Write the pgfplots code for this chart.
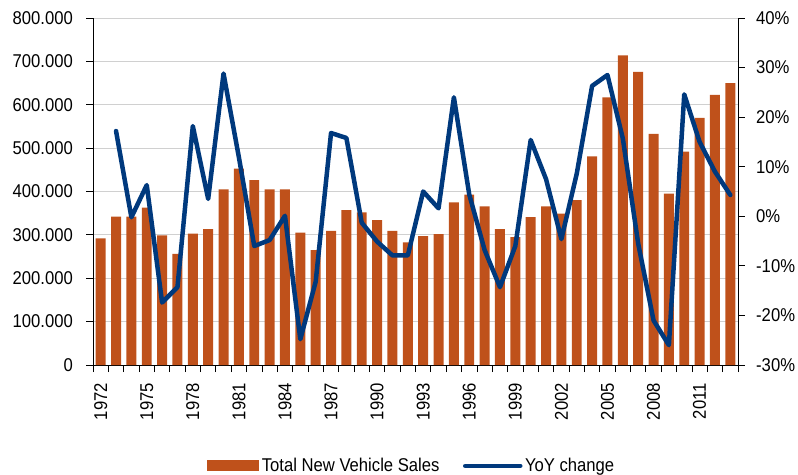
\documentclass[border=0pt]{standalone}
\usepackage{pgfplots}
\pgfplotsset{compat=1.18}
\usepackage{fontspec}
\setmainfont{Liberation Sans}[FakeStretch=0.9]
\definecolor{barC}{RGB}{191,81,27}
\definecolor{lineC}{RGB}{0,57,125}
\definecolor{gridC}{RGB}{208,208,208}
\pgfplotstableread{
year sales
1972 292000
1973 342000
1974 342000
1975 363000
1976 299000
1977 256000
1978 303000
1979 313000
1980 405000
1981 453000
1982 426000
1983 405000
1984 405000
1985 305000
1986 265000
1987 309000
1988 357000
1989 352000
1990 334000
1991 309000
1992 283000
1993 297000
1994 302000
1995 375000
1996 393000
1997 366000
1998 313000
1999 295000
2000 341000
2001 366000
2002 349000
2003 380000
2004 481000
2005 617000
2006 714000
2007 676000
2008 533000
2009 395000
2010 492000
2011 570000
2012 623000
2013 650000
}\salesdata
\pgfplotstableread{
year yoy
1973 17.2
1974 -0.2
1975 6.3
1976 -17.4
1977 -14.3
1978 18.2
1979 3.5
1980 28.8
1981 11.9
1982 -6.0
1983 -4.8
1984 0.1
1985 -24.8
1986 -13.2
1987 16.8
1988 15.8
1989 -1.3
1990 -5.1
1991 -7.9
1992 -7.9
1993 5.0
1994 1.6
1995 24.0
1996 4.4
1997 -6.8
1998 -14.3
1999 -6.0
2000 15.4
2001 7.5
2002 -4.6
2003 8.6
2004 26.3
2005 28.5
2006 15.7
2007 -5.5
2008 -21.0
2009 -26.0
2010 24.6
2011 15.0
2012 9.0
2013 4.3
}\yoydata
\begin{document}
\begin{tikzpicture}
\pgfplotsset{
  common/.style={
    scale only axis, width=645bp, height=347bp,
    xmin=1971.5, xmax=2013.5,
    tick align=outside, major tick length=7bp,
    tick style={black, line width=0.8bp},
    axis line style={black, line width=0.8bp, -},
    tick label style={font=\fontsize{18.5bp}{20bp}\selectfont, inner sep=0pt},
    /pgf/number format/assume math mode=true,
  }
}
\begin{axis}[common,
  axis y line*=left, axis x line*=bottom,
  ymin=0, ymax=800000, ytick={0,100000,200000,300000,400000,500000,600000,700000,800000},
  yticklabels={0,100.000,200.000,300.000,400.000,500.000,600.000,700.000,800.000},
  scaled y ticks=false,
  yticklabel style={xshift=-13bp},
  ymajorgrids, grid style={gridC, line width=1bp},
  xtick={1971.5,1972.5,...,2013.5}, xticklabels={},
  extra x ticks={1972,1975,1978,1981,1984,1987,1990,1993,1996,1999,2002,2005,2008,2011},
  extra x tick labels={1972,1975,1978,1981,1984,1987,1990,1993,1996,1999,2002,2005,2008,2011},
  extra x tick style={major tick length=0pt, grid=none, tick label style={rotate=90, anchor=east, xshift=-18bp}},
  legend style={at={(0.4946,-0.291)}, anchor=center, draw=none, fill=none,
    font=\fontsize{18.5bp}{20bp}\selectfont, inner sep=0pt,
    nodes={inner sep=2.5bp},
    /tikz/every even column/.append style={column sep=21bp}},
  legend columns=2, legend cell align=left,
]
\addplot[ybar, bar width=0.65, bar shift=0pt, fill=barC, draw=none,
  legend image code/.code={\fill[barC] (0bp,-5.5bp) rectangle (52bp,5.5bp);}]
  table[x=year, y=sales] {\salesdata};
\addlegendentry{Total New Vehicle Sales}
\addlegendimage{legend image code/.code={\draw[lineC, line width=4.5bp, line cap=round] (0bp,0bp) -- (55bp,0bp);}}
\addlegendentry{YoY change}
\end{axis}
\begin{axis}[common,
  axis y line*=right, axis x line=none,
  ymin=-30, ymax=40, ytick={-30,-20,-10,0,10,20,30,40},
  yticklabels={-30\%,-20\%,-10\%,0\%,10\%,20\%,30\%,40\%},
  yticklabel style={xshift=11bp},
  xtick=\empty,
]
\addplot[lineC, line width=4.5bp, line join=round, line cap=round, mark=none]
  table[x=year, y=yoy] {\yoydata};
\end{axis}
\pgfresetboundingbox
\path (-93bp,-110bp) rectangle (705bp,365bp);
\end{tikzpicture}
\end{document}
